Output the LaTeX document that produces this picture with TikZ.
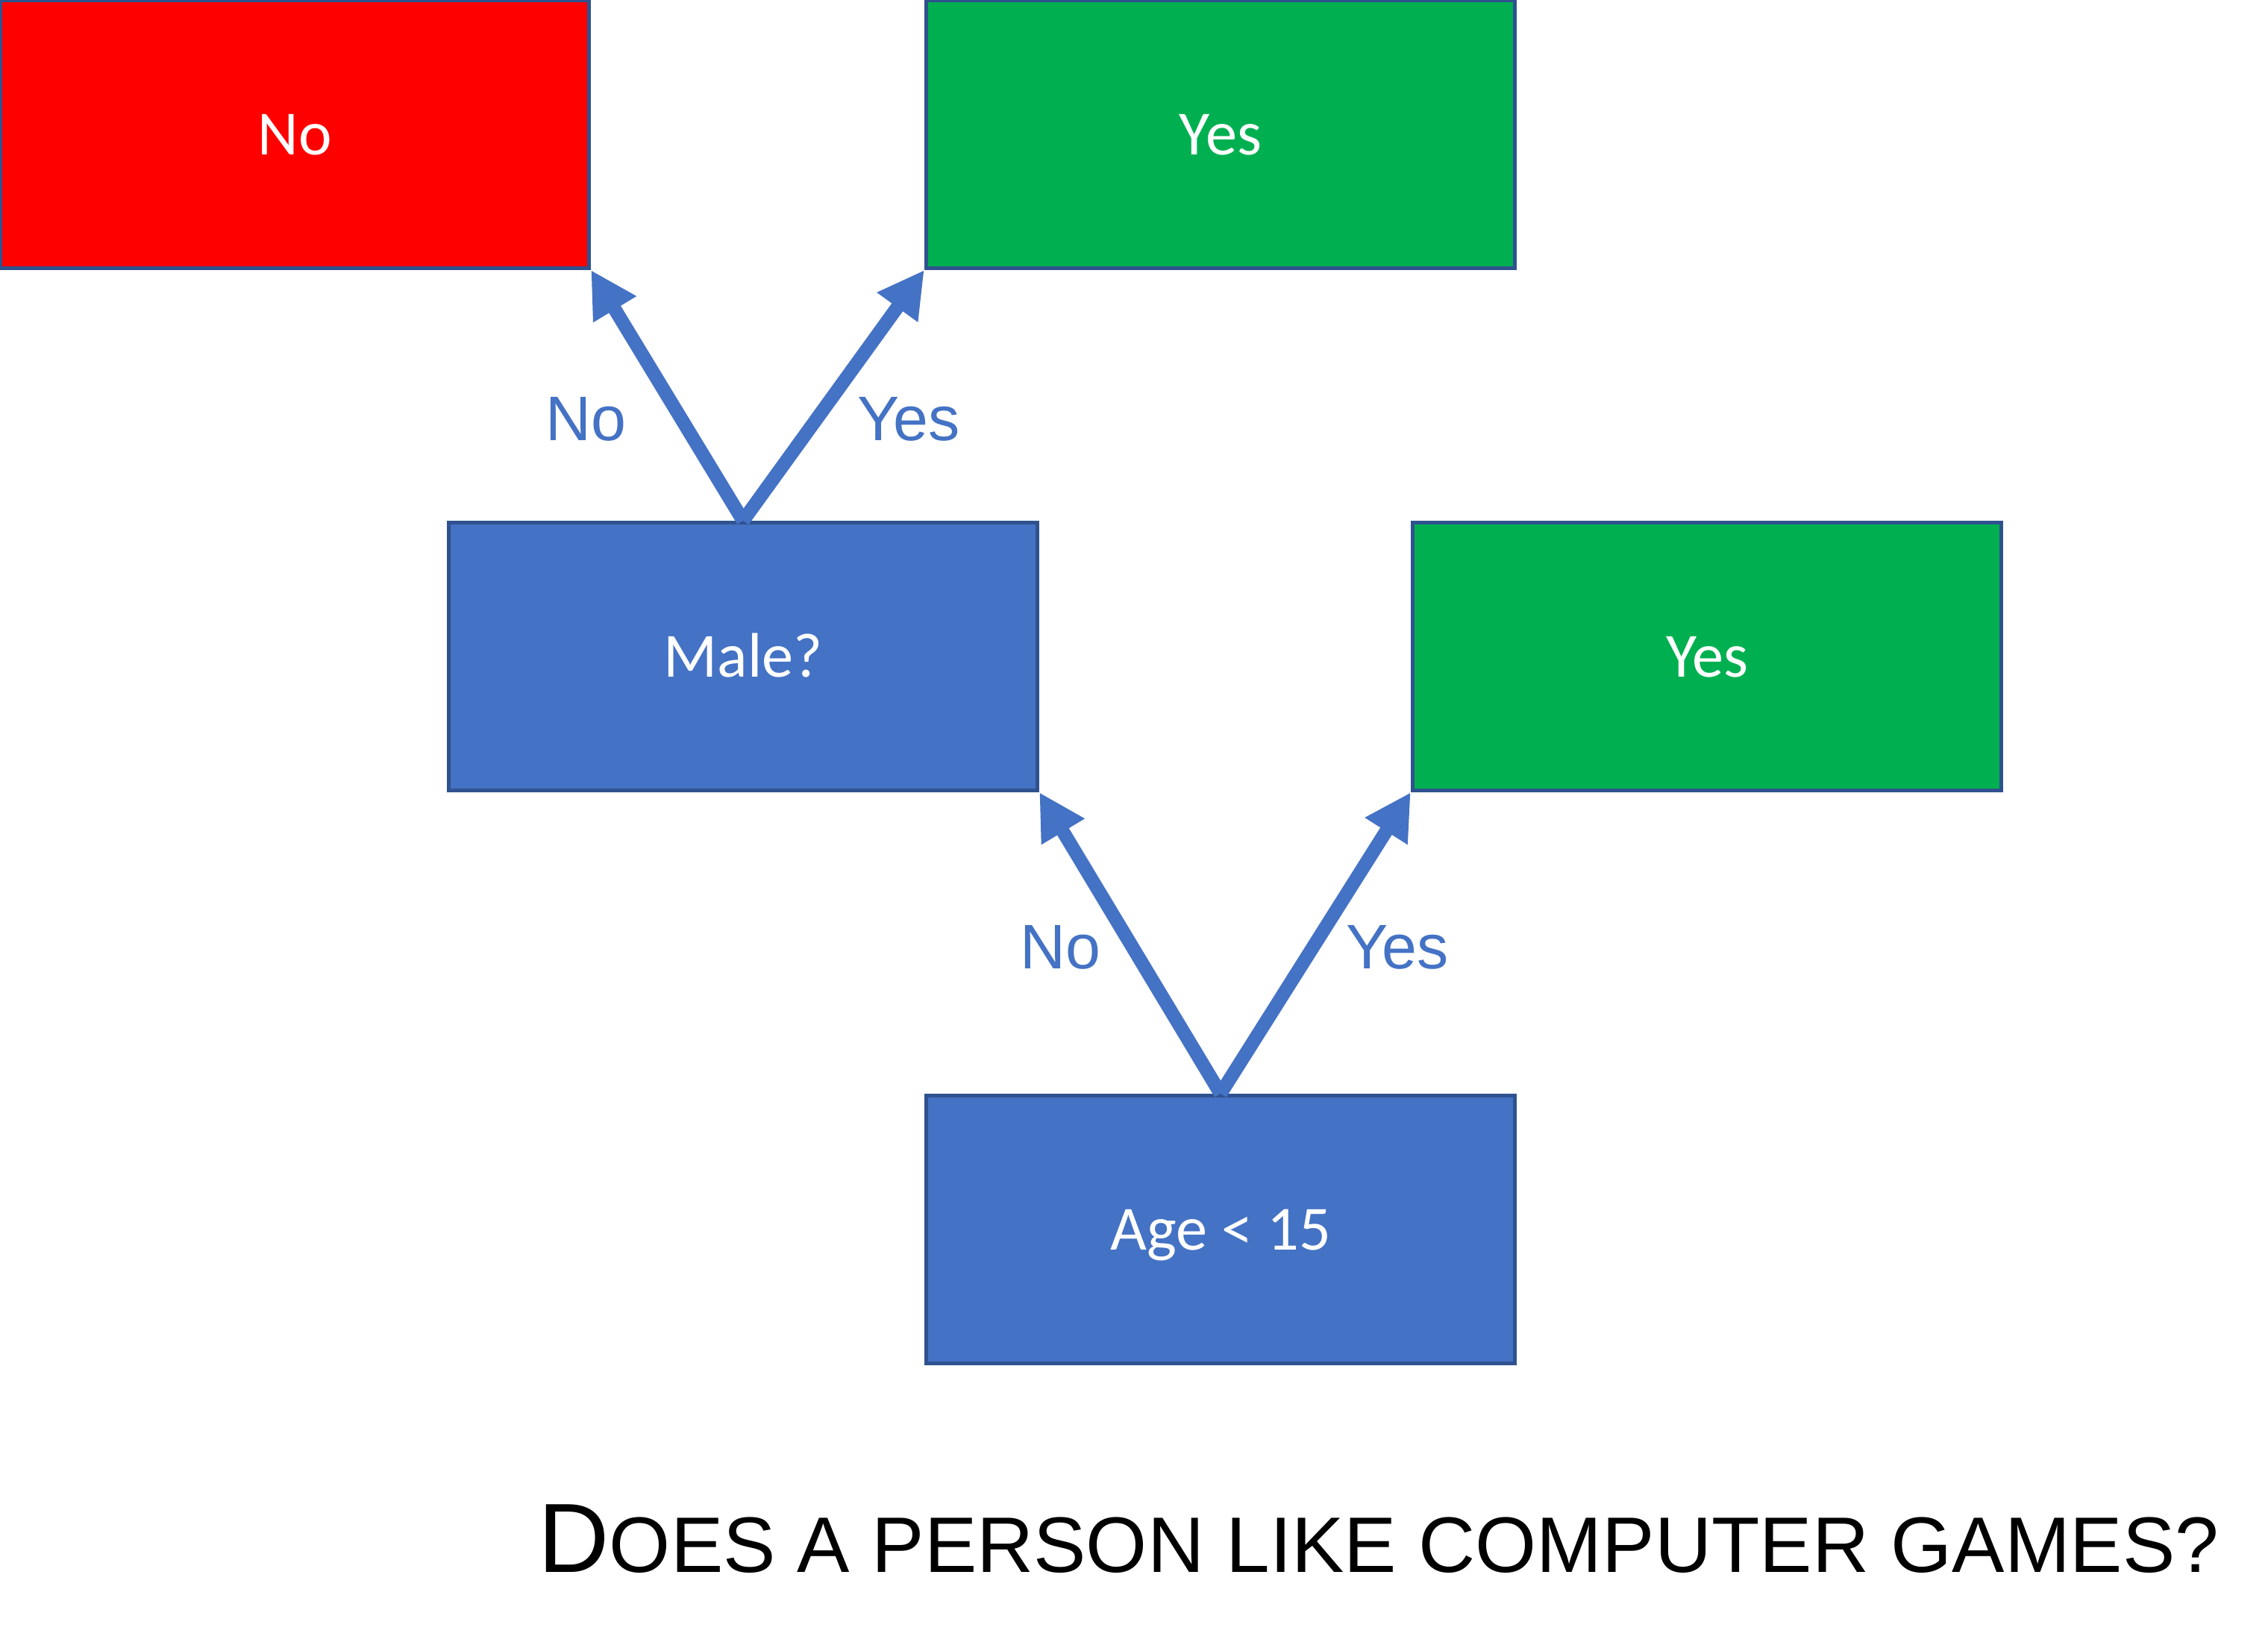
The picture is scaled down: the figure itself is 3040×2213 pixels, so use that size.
\documentclass[tikz,border=0pt]{standalone}
\usepackage{fontspec}
\setmainfont{Liberation Sans}
\newfontfamily\boxfont{Carlito}
\usetikzlibrary{arrows.meta}
\definecolor{nodeblue}{HTML}{4472C4}
\definecolor{edgeblue}{HTML}{2F528F}
\definecolor{leafgreen}{HTML}{00B050}
\definecolor{leafred}{HTML}{FF0000}
\tikzset{
	decision/.style={rectangle,draw=edgeblue,line width=1.4pt,fill=nodeblue,text=white,minimum width=7.89cm,minimum height=3.59cm,text height=15.5pt,text depth=0pt,font=\boxfont\fontsize{24}{28}\selectfont},
	leafyes/.style={decision,fill=leafgreen},
	leafno/.style={decision,fill=leafred},
	branch/.style={draw=nodeblue,line width=5.2pt,-{Triangle[length=17.5pt,width=18pt]}},
	answer/.style={text=nodeblue,font=\fontsize{24}{28}\selectfont}
}

\begin{document}
\begin{tikzpicture}[x=0.01cm,y=-0.01cm]
		\useasboundingbox (0,0) rectangle (3040,2213);
		\node[leafno] (no1) at (395,180) {No};
		\node[leafyes] (yes1) at (1636,180) {Yes};
		\node[decision] (male) at (996,880) {Male?};
		\node[leafyes] (yes2) at (2288,880) {Yes};
		\node[decision] (age) at (1636,1648) {Age < 15};
		\draw[branch] (male.north) -- (no1.south east);
		\draw[branch] (male.north) -- (yes1.south west);
		\draw[branch] (age.north) -- (male.south east);
		\draw[branch] (age.north) -- (yes2.south west);
		\node[answer] (lno1) at (785,562) {No};
		\node[answer] (lyes1) at (1218,562) {Yes};
		\node[answer] (lno2) at (1421,1270) {No};
		\node[answer] (lyes2) at (1873,1270) {Yes};
		\node[anchor=base west,inner sep=0pt] (title) at (721,2107) {{\fontsize{37.5}{40}\selectfont D}{\fontsize{30}{32}\selectfont OES A PERSON LIKE COMPUTER GAMES?}};
\end{tikzpicture}
\end{document}
